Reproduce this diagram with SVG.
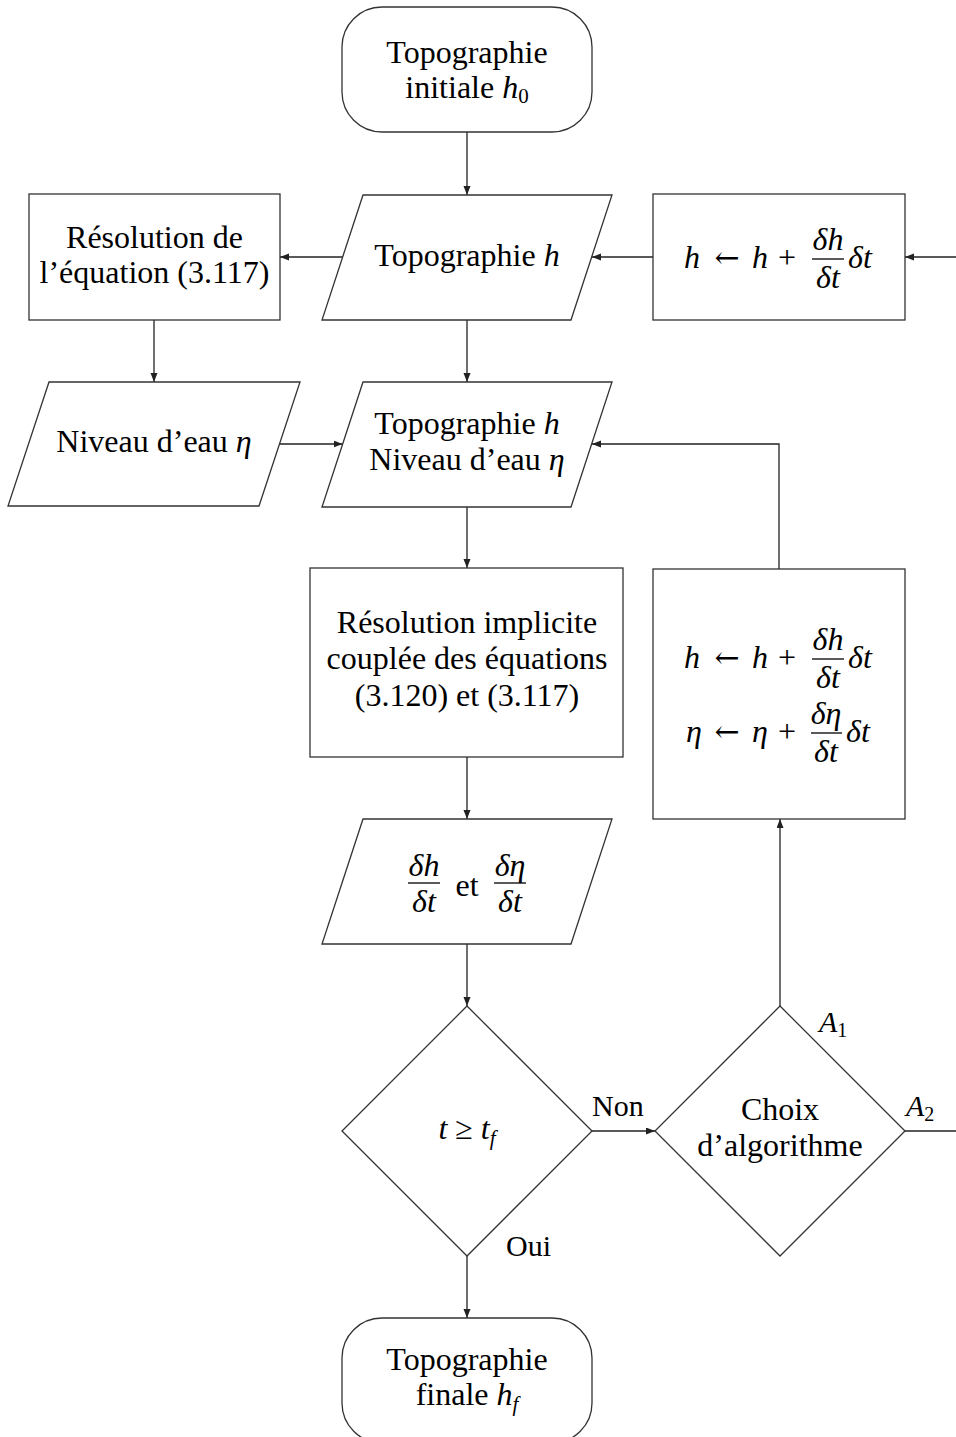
<svg xmlns="http://www.w3.org/2000/svg" width="956" height="1437" viewBox="0 0 956 1437">
<defs>
<marker id="arr" markerUnits="userSpaceOnUse" markerWidth="10" markerHeight="8" refX="9" refY="3.5" orient="auto">
<path d="M0,0 L9,3.5 L0,7 z" fill="#222"/>
</marker>
<style>
.shape{fill:#fff;stroke:#333;stroke-width:1.3}
.edge{fill:none;stroke:#222;stroke-width:1.3}
.arrow{marker-end:url(#arr)}
.t{font-family:"Liberation Serif","DejaVu Serif",serif;font-size:32px;fill:#000;text-anchor:middle}
.ts{font-family:"Liberation Serif","DejaVu Serif",serif;font-size:30px;fill:#000;text-anchor:start}
.i{font-style:italic}
.ar{font-family:"DejaVu Serif",serif;font-size:30px;fill:#000;text-anchor:middle}
.bar{stroke:#000;stroke-width:1.3}
</style>
</defs>
<rect width="956" height="1437" fill="#fff"/>

<g id="connectors">
<path class="edge arrow" d="M467,132 V195"/>
<path class="edge arrow" d="M653,257 H592"/>
<path class="edge arrow" d="M956,257 H905"/>
<path class="edge arrow" d="M343,257 H280"/>
<path class="edge arrow" d="M154,320 V382"/>
<path class="edge arrow" d="M467,320 V382"/>
<path class="edge arrow" d="M279.5,444 H342.5"/>
<path class="edge arrow" d="M779,569 V444 H592"/>
<path class="edge arrow" d="M467,507 V568"/>
<path class="edge arrow" d="M467,757 V819"/>
<path class="edge arrow" d="M467,944 V1006"/>
<path class="edge arrow" d="M592,1131 H655"/>
<path class="edge arrow" d="M780,1006 V819"/>
<path class="edge" d="M905,1131 H956"/>
<path class="edge arrow" d="M467,1256 V1318"/>
<text class="ts" x="592" y="1116">Non</text>
<text class="ts" x="506" y="1256">Oui</text>
<text class="ts" x="819" y="1032"><tspan class="i">A</tspan><tspan font-size="20" dy="5">1</tspan></text>
<text class="ts" x="906" y="1116"><tspan class="i">A</tspan><tspan font-size="20" dy="5">2</tspan></text>
</g>

<g id="start">
<rect class="shape" x="342" y="7" width="250" height="125" rx="40" ry="40"/>
<text class="t" x="467" y="63">Topographie</text>
<text class="t" x="467" y="98">initiale <tspan class="i">h</tspan><tspan font-size="21" dy="5">0</tspan></text>
</g>

<g id="topo">
<polygon class="shape" points="363,195 612,195 571,320 322,320"/>
<text class="t" x="467" y="266">Topographie <tspan class="i">h</tspan></text>
</g>

<g id="update1">
<rect class="shape" x="653" y="194" width="252" height="126"/>
<text class="t i" x="692" y="268">h</text>
<text class="ar" x="727" y="268">←</text>
<text class="t i" x="760" y="268">h</text>
<text class="t" x="787" y="268">+</text>
<line class="bar" x1="812" y1="259" x2="844" y2="259"/>
<text class="t i" x="828" y="250">δh</text>
<text class="t i" x="828" y="288">δt</text>
<text class="t i" x="860" y="268">δt</text>
</g>

<g id="resol1">
<rect class="shape" x="29" y="194" width="251" height="126"/>
<text class="t" x="154.5" y="248">Résolution de</text>
<text class="t" x="154.5" y="283">l’équation (3.117)</text>
</g>

<g id="niveau">
<polygon class="shape" points="49,382 300,382 259,506 8,506"/>
<text class="t" x="154" y="452">Niveau d’eau <tspan class="i">η</tspan></text>
</g>

<g id="toponiv">
<polygon class="shape" points="363,382 612,382 571,507 322,507"/>
<text class="t" x="467" y="434">Topographie <tspan class="i">h</tspan></text>
<text class="t" x="467" y="470">Niveau d’eau <tspan class="i">η</tspan></text>
</g>

<g id="implicit">
<rect class="shape" x="310" y="568" width="313" height="189"/>
<text class="t" x="467" y="633">Résolution implicite</text>
<text class="t" x="467" y="669">couplée des équations</text>
<text class="t" x="467" y="706">(3.120) et (3.117)</text>
</g>

<g id="update2">
<rect class="shape" x="653" y="569" width="252" height="250"/>
<text class="t i" x="692" y="668">h</text>
<text class="ar" x="727" y="668">←</text>
<text class="t i" x="760" y="668">h</text>
<text class="t" x="787" y="668">+</text>
<line class="bar" x1="812" y1="659" x2="844" y2="659"/>
<text class="t i" x="828" y="650">δh</text>
<text class="t i" x="828" y="688">δt</text>
<text class="t i" x="860" y="668">δt</text>
<text class="t i" x="694" y="742">η</text>
<text class="ar" x="727" y="742">←</text>
<text class="t i" x="760" y="742">η</text>
<text class="t" x="787" y="742">+</text>
<line class="bar" x1="811" y1="733" x2="842" y2="733"/>
<text class="t i" x="826" y="724">δη</text>
<text class="t i" x="826" y="762">δt</text>
<text class="t i" x="858" y="742">δt</text>
</g>

<g id="derivs">
<polygon class="shape" points="363,819 612,819 571,944 322,944"/>
<line class="bar" x1="408" y1="883" x2="440" y2="883"/>
<text class="t i" x="424" y="876">δh</text>
<text class="t i" x="424" y="912">δt</text>
<text class="t" x="467" y="896">et</text>
<line class="bar" x1="494" y1="883" x2="526" y2="883"/>
<text class="t i" x="510" y="876">δη</text>
<text class="t i" x="510" y="912">δt</text>
</g>

<g id="test">
<polygon class="shape" points="467,1006 592,1131 467,1256 342,1131"/>
<text class="t" x="467" y="1139"><tspan class="i">t</tspan> ≥ <tspan class="i">t</tspan><tspan class="i" font-size="21" dy="6">f</tspan></text>
</g>

<g id="choix">
<polygon class="shape" points="780,1006 905,1131 780,1256 655,1131"/>
<text class="t" x="780" y="1120">Choix</text>
<text class="t" x="780" y="1156">d’algorithme</text>
</g>

<g id="end">
<rect class="shape" x="342" y="1318" width="250" height="125" rx="40" ry="40"/>
<text class="t" x="467" y="1370">Topographie</text>
<text class="t" x="467" y="1405">finale <tspan class="i">h</tspan><tspan class="i" font-size="21" dy="6">f</tspan></text>
</g>
</svg>
